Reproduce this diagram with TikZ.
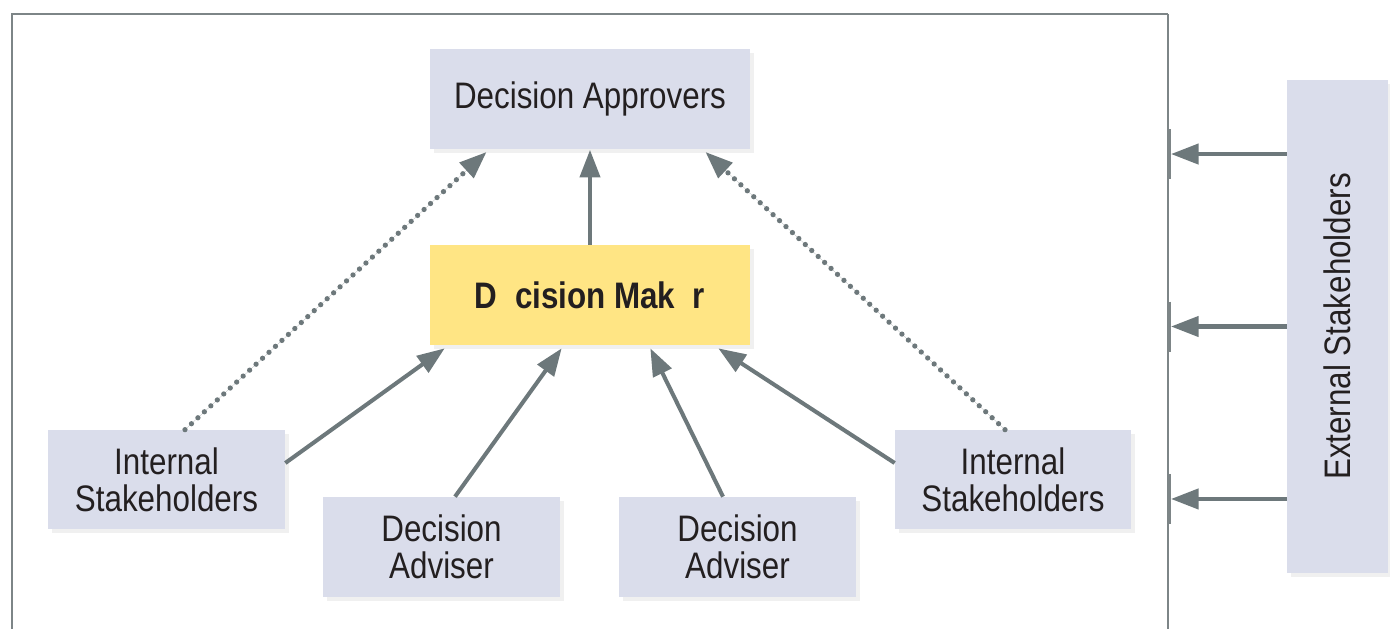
\documentclass[tikz,border=0pt]{standalone}
\usepackage{fontspec}
\setmainfont{Liberation Sans}[FakeStretch=0.85]
\usepackage{xcolor}
\usepackage{tikz}
\usetikzlibrary{positioning,calc,arrows.meta,shadows}
\definecolor{boxgray}{RGB}{218,221,235}
\definecolor{makeryellow}{RGB}{255,229,132}
\definecolor{linegray}{RGB}{109,120,123}
\definecolor{framegray}{RGB}{125,133,135}
\definecolor{inkblack}{RGB}{35,31,32}
\tikzset{
  role/.style={rectangle, fill=boxgray, text=inkblack, align=center,
    font=\fontsize{21}{21}\selectfont,
    drop shadow={shadow xshift=0.08cm, shadow yshift=-0.08cm, opacity=0.12}},
  arr/.style={-{Triangle[length=0.55cm,width=0.4cm]}, line width=2.3pt, draw=linegray, fill=linegray},
  dotarr/.style={arr, line cap=round, dash pattern=on 0pt off 5pt, line width=3pt},
  frameline/.style={draw=framegray, line width=1.1pt}
}
\begin{document}
\begin{tikzpicture}[x=0.02cm,y=-0.02cm]
    \useasboundingbox (0,0) rectangle (1390,629);
    % Frame
    \draw[frameline] (12,629) -- (12,14) -- (1168,14);
    \draw[frameline, line width=0.8pt] (1168,14) -- (1168,629);
    \coordinate (fr) at (1171,0);

    % Roles
    \node[role, minimum width=6.4cm, minimum height=2.02cm] (approvers) at (590,99) {Decision Approvers};
    \node[role, fill=makeryellow, font=\fontsize{21}{21}\selectfont\bfseries,
          minimum width=6.4cm, minimum height=2cm] (maker) at (590,295) {D\phantom{e}cision Mak\phantom{e}r};
    \node[role, minimum width=4.74cm, minimum height=1.98cm] (intL) at (166.5,479.5) {Internal\\Stakeholders};
    \node[role, minimum width=4.74cm, minimum height=2cm] (advL) at (441.5,547) {Decision\\Adviser};
    \node[role, minimum width=4.74cm, minimum height=2cm] (advR) at (737.5,547) {Decision\\Adviser};
    \node[role, minimum width=4.72cm, minimum height=1.98cm] (intR) at (1013,479.5) {Internal\\Stakeholders};
    \node[role, minimum width=2.02cm, minimum height=9.86cm] (ext) at (1337.5,326.5) {\rotatebox{90}{External Stakeholders}};

    % Maker up to approvers
    \draw[arr] (maker.north) -- (approvers.south);
    \draw[arr] ([yshift=0.33cm]intL.east) -- ([xshift=0.3cm,yshift=-0.06cm]maker.south west);
    \draw[arr] ([xshift=0.27cm]advL.north) -- ([xshift=2.64cm,yshift=-0.06cm]maker.south west);
    \draw[arr] ([xshift=-0.29cm]advR.north) -- ([xshift=-2cm,yshift=-0.06cm]maker.south east);
    \draw[arr] ([yshift=0.33cm]intR.west) -- ([xshift=-0.64cm,yshift=-0.06cm]maker.south east);

    % Internal stakeholders straight to approvers
    \draw[dotarr] ([xshift=0.37cm]intL.north) -- ([xshift=1.14cm,yshift=-0.04cm]approvers.south west);
    \draw[dotarr] ([xshift=-0.16cm]intR.north) -- ([xshift=-0.9cm,yshift=-0.04cm]approvers.south east);

    % External stakeholders into the frame
    \foreach \dy [count=\i] in {3.45,0,-3.45} {
        \coordinate (e\i) at ([yshift=\dy cm]ext.west);
        \draw[frameline, line width=1.8pt] ($(e\i -| fr)+(-1.5,-25)$) -- ($(e\i -| fr)+(-1.5,25)$);
        \draw[arr] (e\i) -- (e\i -| fr);
    }
\end{tikzpicture}
\end{document}
